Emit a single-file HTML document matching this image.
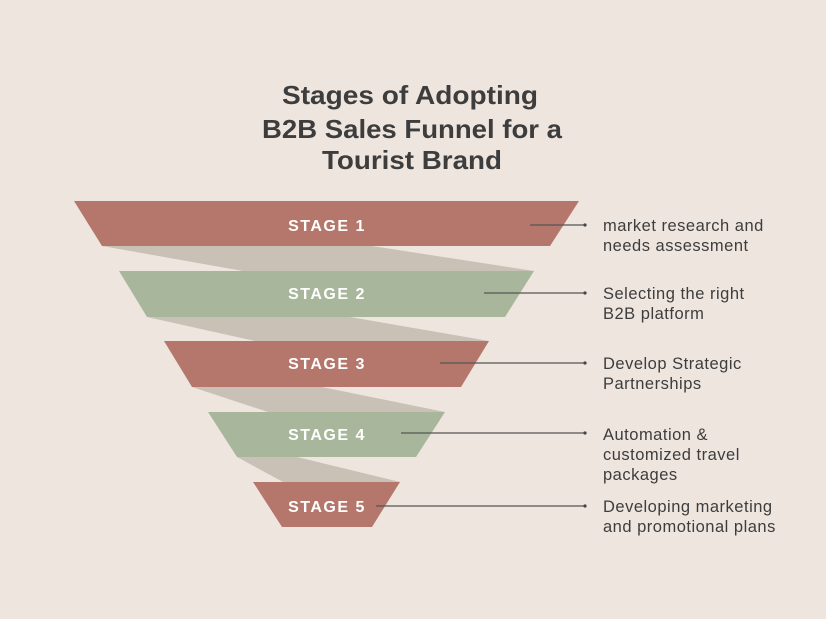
<!DOCTYPE html>
<html><head><meta charset="utf-8"><style>
html,body{margin:0;padding:0;background:#eee5df;}
svg{display:block}
</style></head><body>
<svg width="826" height="619" viewBox="0 0 826 619" xmlns="http://www.w3.org/2000/svg">
<rect width="826" height="619" fill="#eee5df"/>
<g font-family="Liberation Sans, sans-serif" font-weight="bold" fill="#3d3d3d" font-size="26" text-anchor="middle">
<text x="410" y="104" textLength="256" lengthAdjust="spacingAndGlyphs">Stages of Adopting</text>
<text x="412" y="138" textLength="300" lengthAdjust="spacingAndGlyphs">B2B Sales Funnel for a</text>
<text x="412" y="169" textLength="180" lengthAdjust="spacingAndGlyphs">Tourist Brand</text>
</g>
<g fill="#c9c0b6">
<polygon points="102,246 372,246 534,271 243,271"/>
<polygon points="147,317 350,317 489,341 255,341"/>
<polygon points="192,387 322,387 445,412 268,412"/>
<polygon points="237,457 297,457 400,482 283,482"/>
</g>
<polygon points="74,201 579,201 550,246 102,246" fill="#b5776b"/>
<polygon points="119,271 534,271 505,317 147,317" fill="#a8b79c"/>
<polygon points="164,341 489,341 461,387 192,387" fill="#b5776b"/>
<polygon points="208,412 445,412 416,457 237,457" fill="#a8b79c"/>
<polygon points="253,482 400,482 372,527 282,527" fill="#b5776b"/>
<g font-family="Liberation Sans, sans-serif" font-weight="bold" fill="#fff" font-size="16" text-anchor="middle" letter-spacing="1.5">
<text x="327" y="231">STAGE 1</text>
<text x="327" y="299">STAGE 2</text>
<text x="327" y="369">STAGE 3</text>
<text x="327" y="440">STAGE 4</text>
<text x="327" y="512">STAGE 5</text>
</g>
<g stroke="#555" stroke-width="1.2" fill="#444">
<line x1="530" y1="225" x2="585" y2="225"/><circle cx="585" cy="225" r="1.6" stroke="none"/>
<line x1="484" y1="293" x2="585" y2="293"/><circle cx="585" cy="293" r="1.6" stroke="none"/>
<line x1="440" y1="363" x2="585" y2="363"/><circle cx="585" cy="363" r="1.6" stroke="none"/>
<line x1="401" y1="433" x2="585" y2="433"/><circle cx="585" cy="433" r="1.6" stroke="none"/>
<line x1="376" y1="506" x2="585" y2="506"/><circle cx="585" cy="506" r="1.6" stroke="none"/>
</g>
<g font-family="Liberation Sans, sans-serif" fill="#3d3d3d" font-size="16.5" letter-spacing="0.5">
<text x="603" y="231">market research and</text>
<text x="603" y="251">needs assessment</text>
<text x="603" y="299">Selecting the right</text>
<text x="603" y="319">B2B platform</text>
<text x="603" y="369">Develop Strategic</text>
<text x="603" y="389">Partnerships</text>
<text x="603" y="440">Automation &amp;</text>
<text x="603" y="460">customized travel</text>
<text x="603" y="480">packages</text>
<text x="603" y="512">Developing marketing</text>
<text x="603" y="532">and promotional plans</text>
</g>
</svg>
</body></html>
